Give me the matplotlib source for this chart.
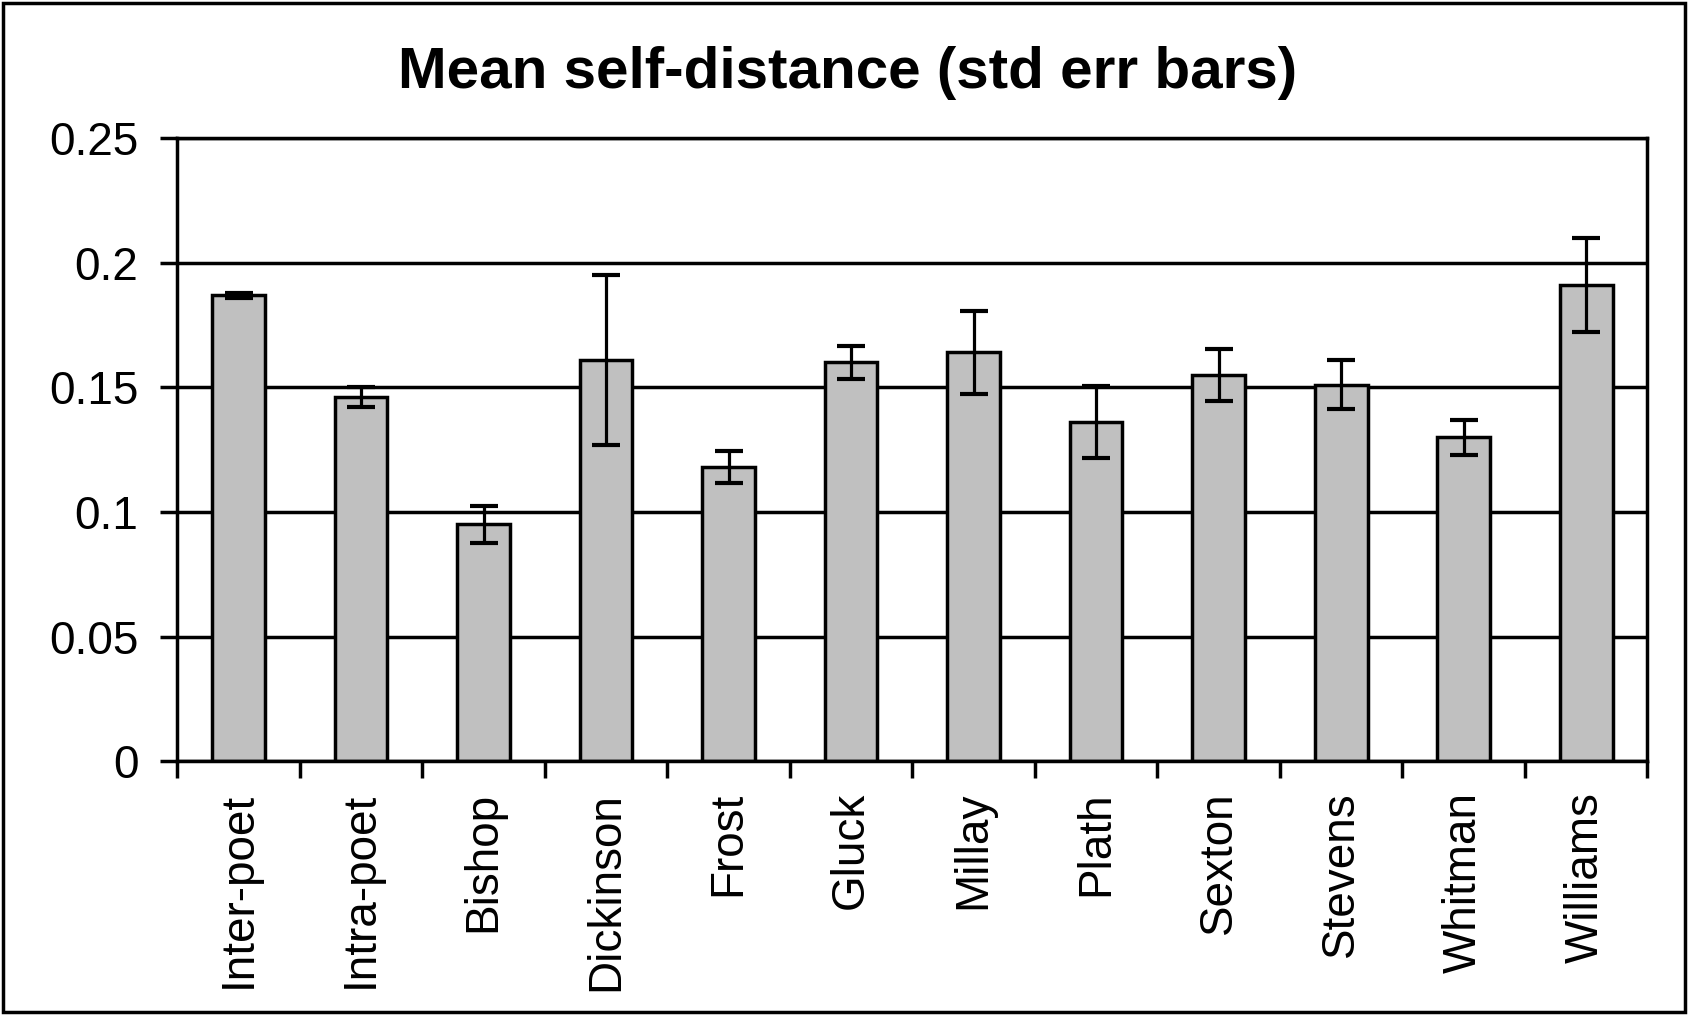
import matplotlib
matplotlib.use('Agg')
import numpy as np
from matplotlib import pyplot as plt
from matplotlib.patches import Rectangle

plt.rcParams['font.family'] = ['Liberation Sans', 'DejaVu Sans']

# data
poets = ['Inter-poet', 'Intra-poet', 'Bishop', 'Dickinson', 'Frost', 'Gluck',
         'Millay', 'Plath', 'Sexton', 'Stevens', 'Whitman', 'Williams']
mean_dist = [0.187, 0.146, 0.095, 0.161, 0.118, 0.160,
             0.164, 0.136, 0.155, 0.151, 0.130, 0.191]
std_err = [0.001, 0.004, 0.0075, 0.034, 0.0065, 0.0065,
           0.0165, 0.0145, 0.0105, 0.0098, 0.007, 0.019]
yticks = [0, 0.05, 0.1, 0.15, 0.2, 0.25]
ytick_labels = ['0', '0.05', '0.1', '0.15', '0.2', '0.25']

fig = plt.figure(figsize=(16.88, 10.15), dpi=100)
ax = fig.add_axes([0.105, 0.25, 0.871, 0.614])

x = np.arange(len(poets))
ax.set_axisbelow(True)
ax.yaxis.grid(True, color='black', linewidth=2.5)
ax.bar(x, mean_dist, width=0.43, color='#c0c0c0', edgecolor='black',
       linewidth=2.5, zorder=2)
ax.errorbar(x, mean_dist, yerr=std_err, fmt='none', ecolor='black',
            elinewidth=2.3, capsize=10, capthick=3, zorder=3)

ax.set_xlim(-0.5, len(poets) - 0.5)
ax.set_ylim(0, 0.25)
ax.set_yticks(yticks)
ax.set_yticklabels(ytick_labels, fontsize=33)
ax.set_xticks(x)
ax.set_xticklabels(poets, rotation=90, fontsize=33)
ax.set_xticks(np.arange(-0.5, len(poets)), minor=True)
ax.tick_params(axis='x', which='major', length=0, pad=22)
ax.tick_params(axis='x', which='minor', length=12, width=2.5, direction='out')
ax.tick_params(axis='y', length=12, width=2.5, direction='out', pad=16)
for s in ax.spines.values():
    s.set_linewidth(2.5)

fig.text(0.502, 0.928, 'Mean self-distance (std err bars)', fontsize=42,
         fontweight='bold', ha='center', va='center')

# outer frame of the chart
fig.patches.append(Rectangle((0.002, 0.003), 0.996, 0.994, transform=fig.transFigure,
                             fill=False, edgecolor='black', linewidth=2.5))

fig.savefig('out.png', dpi=100)
